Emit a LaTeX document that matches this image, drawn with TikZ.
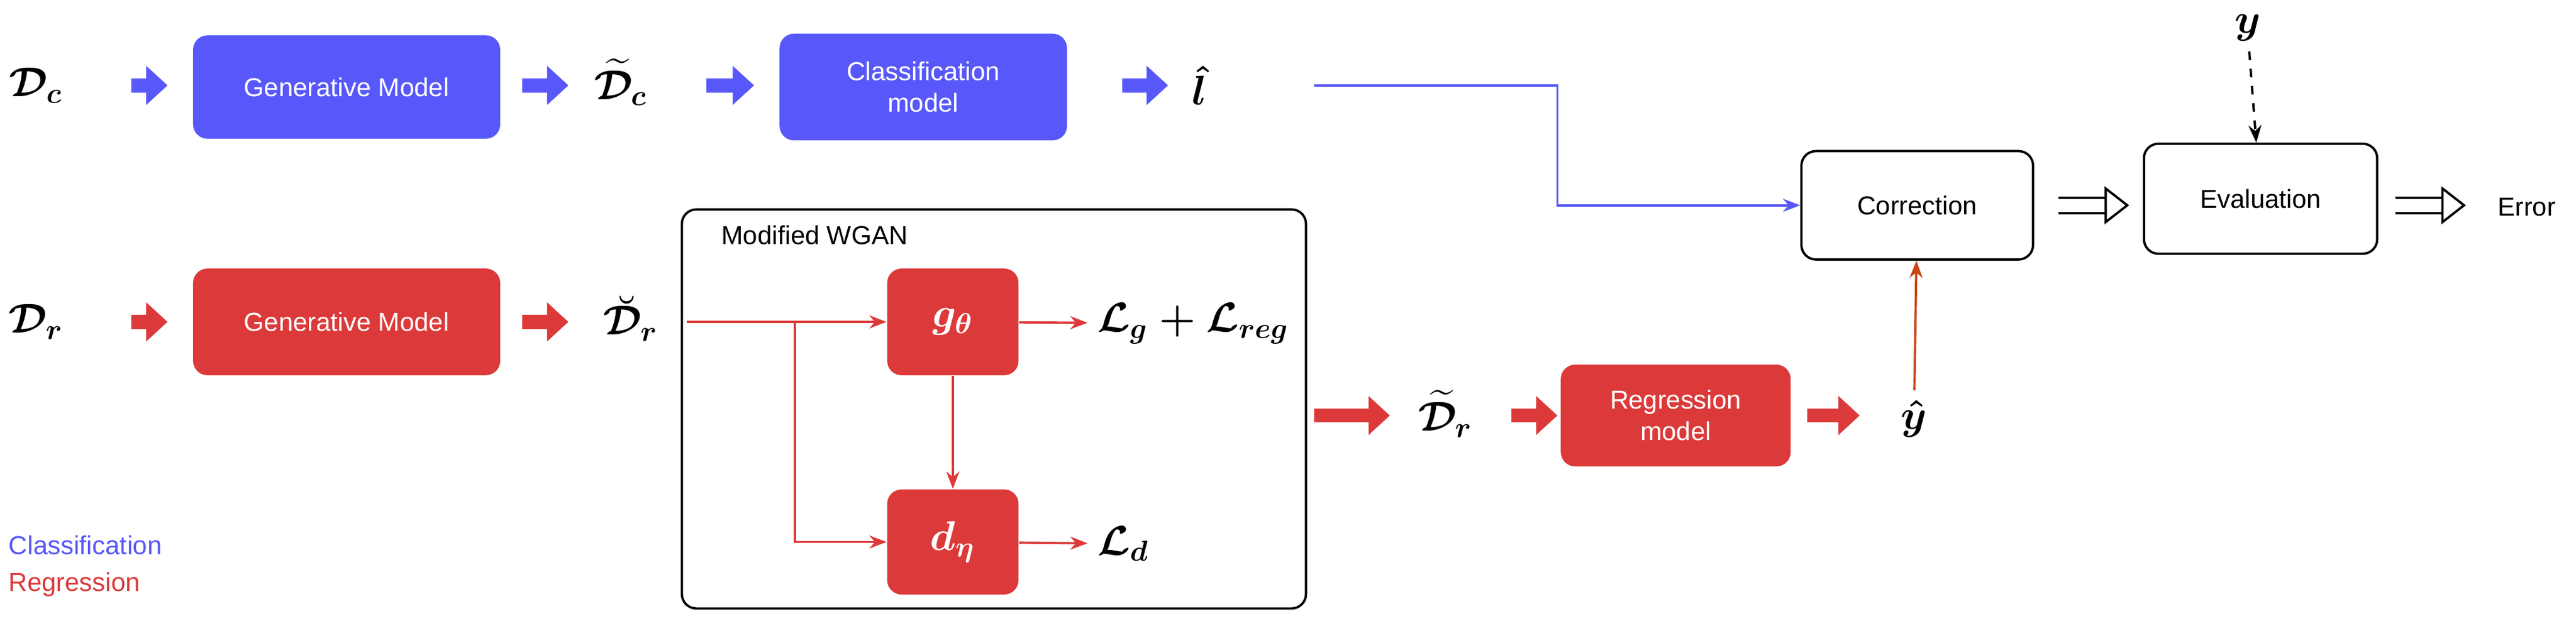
\documentclass[tikz,border=0pt]{standalone}
\usepackage{fontspec}
\setmainfont{Liberation Sans}
\usepackage{amsmath,amssymb}
\usetikzlibrary{arrows.meta}
\definecolor{cb}{RGB}{88,88,250}
\definecolor{cr}{RGB}{220,58,58}
\definecolor{co}{RGB}{200,70,20}
\begin{document}
\begin{tikzpicture}[x=0.02cm,y=-0.02cm,
 box/.style={rounded corners=5pt,align=center,text=white,font=\small,inner sep=0pt},
 bbox/.style={box,fill=cb},
 rbox/.style={box,fill=cr},
 wbox/.style={draw,rounded corners=5pt,font=\small,inner sep=0pt,line width=0.8pt},
 fa/.style={draw=#1,line width=0.17cm,-{Triangle[length=0.26cm,width=0.46cm]}},
 ha/.style={double=white,draw=black,double distance=0.16cm,line width=0.8pt,-{Triangle[open,fill=white,length=0.3cm,width=0.46cm]}},
 m/.style={font=\Large},
 ln/.style={line width=0.8pt,-{Stealth[length=6pt]}}]
\useasboundingbox (0,0) rectangle (1568,381);
% top row
\node[m] (dc) at (22,52) {$\boldsymbol{\mathcal{D}_c}$};
\node[bbox,minimum width=3.74cm,minimum height=1.26cm] (gm1) at (211,53) {Generative Model};
\node[m] (dtc) at (378,50) {$\boldsymbol{\widetilde{\mathcal{D}}_c}$};
\node[bbox,minimum width=3.5cm,minimum height=1.3cm] (cm) at (562,53) {Classification\\model};
\node[m] (lh) at (730,52) {$\boldsymbol{\hat{l}}$};
\coordinate (a1s) at (80,52); \coordinate (a1e) at (102,52);
\coordinate (a2s) at (318,52); \coordinate (a2e) at (346,52);
\coordinate (a3s) at (430,52); \coordinate (a3e) at (459,52);
\coordinate (a4s) at (683,52); \coordinate (a4e) at (711,52);
\draw[fa=cb] (a1s) -- (a1e);
\draw[fa=cb] (a2s) -- (a2e);
\draw[fa=cb] (a3s) -- (a3e);
\draw[fa=cb] (a4s) -- (a4e);
% correction / evaluation
\node[wbox,minimum width=2.82cm,minimum height=1.32cm] (cor) at (1167,125) {Correction};
\node[wbox,minimum width=2.84cm,minimum height=1.34cm] (ev) at (1376,121) {Evaluation};
\node[font=\small] (err) at (1538,126) {Error};
\coordinate (h1s) at (1253,125); \coordinate (h1e) at (1296,125);
\coordinate (h2s) at (1458,125); \coordinate (h2e) at (1501,125);
\draw[ha] (h1s) -- (h1e);
\draw[ha] (h2s) -- (h2e);
\node[m] (y) at (1368,17) {$\boldsymbol{y}$};
\draw[ln,dashed] (y) -- (ev);
\coordinate (c1) at (800,52);
\draw[cb,ln] (c1) -| (948,125) -- (cor.west);
% bottom row
\node[m] (dr) at (22,196) {$\boldsymbol{\mathcal{D}_r}$};
\node[rbox,minimum width=3.74cm,minimum height=1.3cm] (gm2) at (211,196) {Generative Model};
\node[m] (dbr) at (384,194) {$\boldsymbol{\breve{\mathcal{D}}_r}$};
\coordinate (b1s) at (80,196); \coordinate (b1e) at (102,196);
\coordinate (b2s) at (318,196); \coordinate (b2e) at (346,196);
\draw[fa=cr] (b1s) -- (b1e);
\draw[fa=cr] (b2s) -- (b2e);
\node[wbox,minimum width=7.6cm,minimum height=4.86cm] (wg) at (605,249) {};
\node[font=\small,anchor=west] (wgl) at (433,143) {Modified WGAN};
\node[rbox,minimum width=1.6cm,minimum height=1.3cm,font=\Large] (g) at (580,196) {$\boldsymbol{g_\theta}$};
\node[rbox,minimum width=1.6cm,minimum height=1.28cm,font=\Large] (d) at (580,330) {$\boldsymbol{d_\eta}$};
\coordinate (s0) at (418,196);
\coordinate (s1) at (484,196);
\draw[cr,ln] (s0) -- (g);
\draw[cr,ln] (s1) |- (d);
\draw[cr,ln] (g) -- (d);
\node[m,anchor=west] (lg) at (662,197) {$\boldsymbol{\mathcal{L}_g+\mathcal{L}_{reg}}$};
\node[m,anchor=west] (ld) at (662,331) {$\boldsymbol{\mathcal{L}_d}$};
\draw[cr,ln] (g) -- (lg);
\draw[cr,ln] (d) -- (ld);
\node[m] (dtr) at (880,252) {$\boldsymbol{\widetilde{\mathcal{D}}_r}$};
\node[rbox,minimum width=2.8cm,minimum height=1.24cm] (rm) at (1020,253) {Regression\\model};
\node[m] (yh) at (1165,255) {$\boldsymbol{\hat{y}}$};
\coordinate (b3s) at (800,253); \coordinate (b3e) at (846,253);
\coordinate (b4s) at (920,253); \coordinate (b4e) at (948,253);
\coordinate (b5s) at (1100,253); \coordinate (b5e) at (1132,253);
\draw[fa=cr] (b3s) -- (b3e);
\draw[fa=cr] (b4s) -- (b4e);
\draw[fa=cr] (b5s) -- (b5e);
\draw[co,ln] (yh) -- (cor);
% legend
\node[anchor=west,text=cb,font=\small,inner sep=0pt] (lc) at (5,332) {Classification};
\node[anchor=west,text=cr,font=\small,inner sep=0pt] (lr) at (5,356) {Regression};
\end{tikzpicture}
\end{document}
